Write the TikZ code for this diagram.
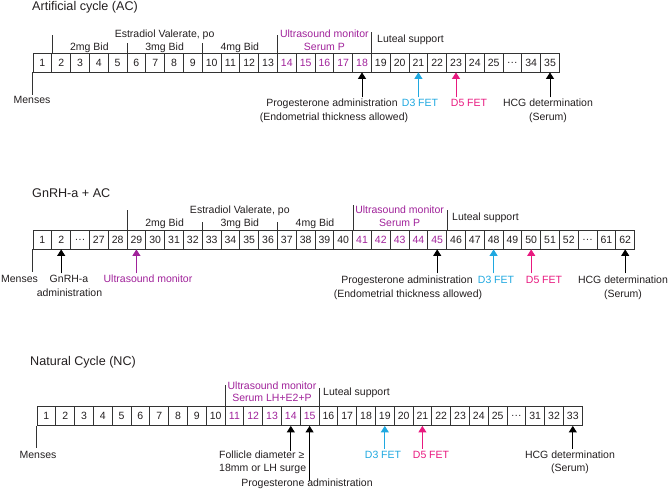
\documentclass[tikz,border=0pt]{standalone}
\usepackage{fontspec}
\setmainfont{Liberation Sans}
\usetikzlibrary{arrows.meta}
\definecolor{txt}{HTML}{231F20}
\definecolor{mag}{HTML}{A0229A}
\definecolor{fetc}{HTML}{1FA8E0}
\definecolor{fetp}{HTML}{E8197F}
\definecolor{ln}{HTML}{333333}
\newcommand\dts{.\kern0.6pt.\kern0.6pt.}
\begin{document}
\begin{tikzpicture}[x=1pt,y=-1pt, font=\fontsize{10.5}{12.6}\selectfont, text=txt,
 daybox/.style={draw=ln, line width=0.8pt, minimum width=18.8pt, minimum height=19pt, inner sep=0pt},
 lbl/.style={anchor=base, inner sep=0pt},
 lblw/.style={anchor=base west, inner sep=0pt},
 ttl/.style={anchor=base west, inner sep=0pt, font=\fontsize{12.6}{15}\selectfont},
 tick/.style={draw=ln, line width=0.8pt},
 arr/.style={line width=0.9pt, -{Triangle[width=8pt,length=6.5pt]}}]
\useasboundingbox (0,0) rectangle (669,489);

% ---------------- Row 1: Artificial cycle ----------------
\node[ttl] (t1) at (32,11) {Artificial cycle (AC)};
\foreach \l/\c [count=\i] in {1/txt,2/txt,3/txt,4/txt,5/txt,6/txt,7/txt,8/txt,9/txt,10/txt,11/txt,12/txt,13/txt,14/mag,15/mag,16/mag,17/mag,18/mag,19/txt,20/txt,21/txt,22/txt,23/txt,24/txt,25/txt,\dts/txt,34/txt,35/txt}
  {\node[daybox,text=\c] (r1b\i) at ({33+(\i-0.5)*18.8},62.5) {\l};}
\draw[tick] (r1b1.north east) -- ++(0,-18);
\draw[tick] (r1b5.north east) -- ++(0,-10);
\draw[tick] (r1b9.north east) -- ++(0,-10);
\draw[tick] (r1b13.north east) -- ++(0,-18);
\draw[tick] (r1b18.north east) -- ++(0,-21);
\node[lbl] (r1est) at (164.6,37.5) {Estradiol Valerate, po};
\node[lbl] (r1d2) at (89.4,50.5) {2mg Bid};
\node[lbl] (r1d3) at (164.6,50.5) {3mg Bid};
\node[lbl] (r1d4) at (239.8,50.5) {4mg Bid};
\node[lbl,text=mag] (r1us) at (324.4,37.5) {Ultrasound monitor};
\node[lbl,text=mag] (r1sp) at (324.4,50.5) {Serum P};
\node[lblw] (r1lut) at (377,43) {Luteal support};
\draw[tick] (r1b1.south west) -- ++(0,23);
\node[lbl] (r1men) at (32,104) {Menses};
\draw[arr] ([yshift=-25pt]r1b18.south) -- (r1b18.south);
\draw[arr,fetc] ([yshift=-25pt]r1b21.south) -- (r1b21.south);
\draw[arr,fetp] ([yshift=-25pt]r1b23.south) -- (r1b23.south);
\draw[arr] ([yshift=-25pt]r1b28.south) -- (r1b28.south);
\node[lbl] (r1pa) at (332,107) {Progesterone administration};
\node[lbl] (r1et) at (334,121) {(Endometrial thickness allowed)};
\node[lbl,text=fetc] (r1d3f) at (420,107) {D3 FET};
\node[lbl,text=fetp] (r1d5f) at (469,107) {D5 FET};
\node[lbl] (r1hcg) at (548,107) {HCG determination};
\node[lbl] (r1ser) at (548,121) {(Serum)};

% ---------------- Row 2: GnRH-a + AC ----------------
\node[ttl] (t2) at (32,197) {GnRH-a + AC};
\foreach \l/\c [count=\i] in {1/txt,2/txt,\dts/txt,27/txt,28/txt,29/txt,30/txt,31/txt,32/txt,33/txt,34/txt,35/txt,36/txt,37/txt,38/txt,39/txt,40/txt,41/mag,42/mag,43/mag,44/mag,45/mag,46/txt,47/txt,48/txt,49/txt,50/txt,51/txt,52/txt,\dts/txt,61/txt,62/txt}
  {\node[daybox,text=\c] (r2b\i) at ({33+(\i-0.5)*18.8},239.5) {\l};}
\draw[tick] (r2b5.north east) -- ++(0,-20);
\draw[tick] (r2b9.north east) -- ++(0,-8);
\draw[tick] (r2b13.north east) -- ++(0,-8);
\draw[tick] (r2b17.north east) -- ++(0,-25);
\draw[tick] (r2b22.north east) -- ++(0,-20);
\node[lbl] (r2est) at (239.8,214) {Estradiol Valerate, po};
\node[lbl] (r2d2) at (164.6,226.7) {2mg Bid};
\node[lbl] (r2d3) at (239.8,226.7) {3mg Bid};
\node[lbl] (r2d4) at (315,226.7) {4mg Bid};
\node[lbl,text=mag] (r2us) at (399.6,214) {Ultrasound monitor};
\node[lbl,text=mag] (r2sp) at (399.6,226.7) {Serum P};
\node[lblw] (r2lut) at (452,220) {Luteal support};
\draw[tick] (r2b1.south west) -- ++(0,23);
\node[lbl] (r2men) at (19.5,282) {Menses};
\draw[arr] ([yshift=-24pt]r2b2.south) -- (r2b2.south);
\draw[arr,mag] ([yshift=-24pt]r2b6.south) -- (r2b6.south);
\draw[arr] ([yshift=-24pt]r2b22.south) -- (r2b22.south);
\draw[arr,fetc] ([yshift=-24pt]r2b25.south) -- (r2b25.south);
\draw[arr,fetp] ([yshift=-24pt]r2b27.south) -- (r2b27.south);
\draw[arr] ([yshift=-24pt]r2b32.south) -- (r2b32.south);
\node[lbl] (r2gn) at (69,282) {GnRH-a};
\node[lbl] (r2adm) at (69.5,296) {administration};
\node[lbl,text=mag] (r2usm) at (148,282) {Ultrasound monitor};
\node[lbl] (r2pa) at (407,283) {Progesterone administration};
\node[lbl] (r2et) at (408,297) {(Endometrial thickness allowed)};
\node[lbl,text=fetc] (r2d3f) at (496,283) {D3 FET};
\node[lbl,text=fetp] (r2d5f) at (544,283) {D5 FET};
\node[lbl] (r2hcg) at (623,283) {HCG determination};
\node[lbl] (r2ser) at (623,297) {(Serum)};

% ---------------- Row 3: Natural cycle ----------------
\node[ttl] (t3) at (30,365) {Natural Cycle (NC)};
\foreach \l/\c [count=\i] in {1/txt,2/txt,3/txt,4/txt,5/txt,6/txt,7/txt,8/txt,9/txt,10/txt,11/mag,12/mag,13/mag,14/mag,15/mag,16/txt,17/txt,18/txt,19/txt,20/txt,21/txt,22/txt,23/txt,24/txt,25/txt,\dts/txt,31/txt,32/txt,33/txt}
  {\node[daybox,text=\c] (r3b\i) at ({37+(\i-0.5)*18.8},416) {\l};}
\draw[tick] (r3b10.north east) -- ++(0,-21.5);
\draw[tick] (r3b15.north east) -- ++(0,-18.5);
\node[lbl,text=mag] (r3us) at (272,389.3) {Ultrasound monitor};
\node[lbl,text=mag] (r3sp) at (272,401.7) {Serum LH+E2+P};
\node[lblw] (r3lut) at (323,395) {Luteal support};
\draw[tick] (r3b1.south west) -- ++(0,22);
\node[lbl] (r3men) at (38,458) {Menses};
\draw[arr] ([yshift=-25pt]r3b14.south) -- (r3b14.south);
\draw[arr] ([yshift=-55pt]r3b15.south) -- (r3b15.south);
\draw[arr,fetc] ([yshift=-23pt]r3b19.south) -- (r3b19.south);
\draw[arr,fetp] ([yshift=-23pt]r3b21.south) -- (r3b21.south);
\draw[arr] ([yshift=-23pt]r3b29.south) -- (r3b29.south);
\node[lblw] (r3fd) at (219,458) {Follicle diameter ≥};
\node[lblw] (r3lh) at (219,471) {18mm or LH surge};
\node[lbl] (r3pa) at (307,486) {Progesterone administration};
\node[lbl,text=fetc] (r3d3f) at (383,458) {D3 FET};
\node[lbl,text=fetp] (r3d5f) at (431,458) {D5 FET};
\node[lbl] (r3hcg) at (570,458) {HCG determination};
\node[lbl] (r3ser) at (570,471) {(Serum)};
\end{tikzpicture}
\end{document}
